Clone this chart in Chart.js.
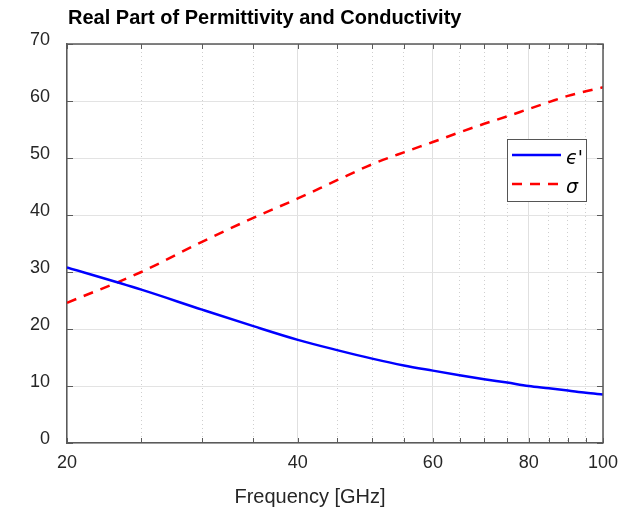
<!DOCTYPE html>
<html>
<head>
<meta charset="utf-8">
<script src="https://cdn.jsdelivr.net/npm/chart.js"></script>
<style>
 html, body { margin: 0; padding: 0; background: #fff; }
</style>
</head>
<body>
<canvas id="miGrafico" width="633" height="515"></canvas>
<script>
var ctx = document.getElementById('miGrafico').getContext('2d');

// frecuencia en GHz y las dos curvas
let frecuencias = [20, 25, 30, 35, 40, 45, 50, 55, 60, 65, 70, 75, 80, 85, 90, 95, 100];
let permitividad = [30.8, 26.9, 23.4, 20.5, 18.1, 16.3, 14.8, 13.6, 12.7, 11.9, 11.2, 10.6, 10.0, 9.6, 9.2, 8.8, 8.5];
let conductividad = [24.6, 30.0, 35.3, 39.5, 42.9, 46.1, 48.9, 51.0, 52.8, 54.5, 56.0, 57.3, 58.6, 59.8, 60.9, 61.7, 62.4];

// marcas del eje x (solo algunas llevan numero)
let marcasX = [20, 25, 30, 35, 40, 45, 50, 55, 60, 65, 70, 75, 80, 85, 90, 95, 100];
let etiquetasX = [20, 40, 60, 80, 100];
let marcasY = [0, 10, 20, 30, 40, 50, 60, 70];

let titulo = 'Real Part of Permittivity and Conductivity';
let tituloX = 'Frequency [GHz]';

const fuente = '"Liberation Sans", Arial, sans-serif';
const colorTexto = '#262626';
const colorEje = '#5a5a5a';

function puntos(valores) {
 return frecuencias.map((f, i) => ({ x: f, y: valores[i] }));
}

// caja, marcas hacia dentro, titulo y leyenda
const marco = {
 id: 'marco',
 afterDatasetsDraw(chart) {
  const c = chart.ctx;
  const a = chart.chartArea;
  const sx = chart.scales.x, sy = chart.scales.y;
  c.save();
  c.strokeStyle = colorEje;
  c.lineWidth = 1.5;
  c.beginPath();
  c.moveTo(a.left, a.top); c.lineTo(a.right, a.top); c.lineTo(a.right, a.bottom);
  c.stroke();
  c.lineWidth = 1;
  c.beginPath();
  marcasX.forEach(v => {
   const px = Math.round(sx.getPixelForValue(v)) + 0.5;
   c.moveTo(px, a.bottom); c.lineTo(px, a.bottom - 5);
   c.moveTo(px, a.top); c.lineTo(px, a.top + 5);
  });
  marcasY.forEach(v => {
   const py = Math.round(sy.getPixelForValue(v)) + 0.5;
   c.moveTo(a.left, py); c.lineTo(a.left + 6, py);
   c.moveTo(a.right, py); c.lineTo(a.right - 6, py);
  });
  c.stroke();
  c.restore();
 },
 afterDraw(chart) {
  const c = chart.ctx;
  const a = chart.chartArea;
  c.save();
  c.fillStyle = '#000';
  c.font = 'bold 20px ' + fuente;
  c.textBaseline = 'middle';
  c.textAlign = 'left';
  c.fillText(titulo, a.left + 1, 18);

  c.fillStyle = colorTexto;
  c.font = '20px ' + fuente;
  c.textAlign = 'center';
  c.fillText(tituloX, 310, 497);

  // leyenda
  const lx = 507, ly = 139, lw = 79, lh = 62;
  c.fillStyle = '#fff';
  c.fillRect(lx, ly, lw, lh);
  c.strokeStyle = '#555';
  c.lineWidth = 1;
  c.strokeRect(lx + 0.5, ly + 0.5, lw, lh);
  chart.data.datasets.forEach((ds, i) => {
   const y = ly + 16 + i * 29;
   c.strokeStyle = ds.borderColor;
   c.lineWidth = ds.borderWidth;
   c.setLineDash(ds.borderDash || []);
   c.beginPath();
   c.moveTo(lx + 5, y); c.lineTo(lx + 54, y);
   c.stroke();
   c.setLineDash([]);
   c.fillStyle = '#000';
   c.font = 'italic 19px "DejaVu Sans", sans-serif';
   c.textAlign = 'left';
   c.fillText(ds.label, lx + 59, y + 4);
  });
  c.restore();
 }
};

var chart = new Chart(ctx, {
 type: 'line',
 data: {
  datasets: [{
   label: "ϵ'",
   data: puntos(permitividad),
   borderColor: '#0000ff',
   borderWidth: 2.5,
   pointRadius: 0,
   cubicInterpolationMode: 'monotone',
   fill: false
  },
  {
   label: 'σ',
   data: puntos(conductividad),
   borderColor: '#ff0000',
   borderWidth: 2.5,
   borderDash: [10, 8],
   pointRadius: 0,
   cubicInterpolationMode: 'monotone',
   fill: false
  }]
 },
 options: {
  responsive: false,
  animation: false,
  layout: { padding: { top: 44, right: 30, left: 0, bottom: 0 } },
  plugins: { legend: { display: false }, tooltip: { enabled: false }, title: { display: false } },
  scales: {
   x: {
    type: 'logarithmic',
    min: 20,
    max: 100,
    afterBuildTicks: s => { s.ticks = marcasX.map(v => ({ value: v })); },
    afterFit: s => { s.height = 72; },
    ticks: {
     autoSkip: false,
     maxRotation: 0,
     padding: 9,
     color: colorTexto,
     font: { family: fuente, size: 18 },
     callback: v => etiquetasX.includes(v) ? String(v) : ''
    },
    grid: {
     drawTicks: false,
     lineWidth: 1,
     color: c => (c.tick && etiquetasX.includes(c.tick.value)) ? '#e0e0e0' : '#cfcfcf'
    },
    border: {
     color: colorEje,
     width: 1.5,
     dash: c => (c.tick && !etiquetasX.includes(c.tick.value)) ? [1, 3] : []
    }
   },
   y: {
    min: 0,
    max: 70,
    afterFit: s => { s.width = 67; },
    ticks: {
     stepSize: 10,
     padding: 17,
     labelOffset: -4,
     color: colorTexto,
     font: { family: fuente, size: 18 }
    },
    grid: { drawTicks: false, color: '#e3e3e3', lineWidth: 1 },
    border: { color: colorEje, width: 1.5 }
   }
  }
 },
 plugins: [marco]
});
</script>
</body>
</html>
